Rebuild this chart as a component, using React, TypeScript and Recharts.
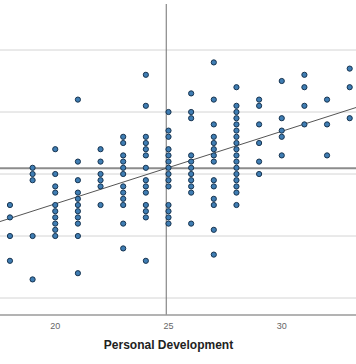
import React from "react";
import {
  ScatterChart,
  Scatter,
  XAxis,
  YAxis,
  ReferenceLine,
} from "recharts";

// Personal Development score columns (x) and the y values of their points
const col18 = [25, 23, 20, 16];
const col19 = [31, 30, 29, 20, 13];
const col20 = [34, 30, 28, 27, 25, 24, 23, 22, 21, 20];
const col21 = [42, 32, 29, 27, 26, 25, 24, 23, 22, 20, 14];
const col22 = [34, 32, 30, 29, 28, 25];
const col23 = [36, 35, 33, 32, 31, 30, 28, 27, 26, 25, 22, 18];
const col24 = [46, 41, 36, 35, 34, 33, 31, 29, 28, 27, 25, 24, 23, 16];
const col25 = [40, 37, 36, 34, 33, 32, 31, 30, 29, 28, 25, 24, 23, 22];
const col26 = [43, 40, 39, 33, 32, 31, 30, 29, 28, 27, 22];
const col27 = [48, 42, 38, 36, 35, 34, 33, 32, 29, 28, 26, 25, 21, 17];
const col28 = [44, 41, 40, 39, 38, 37, 36, 35, 34, 33, 32, 31, 30, 29, 28, 27, 25];
const col29 = [42, 41, 38, 35, 32, 30];
const col30 = [45, 39, 37, 36, 33];
const col31 = [46, 44, 41, 38];
const col32 = [42, 38, 33];
const col33 = [47, 44, 39];

const columnX = [18, 19, 20, 21, 22, 23, 24, 25, 26, 27, 28, 29, 30, 31, 32, 33];
const columnY = [
  col18, col19, col20, col21, col22, col23, col24, col25,
  col26, col27, col28, col29, col30, col31, col32, col33,
];

const xTicks = [20, 25, 30];
const yTicks = [10, 20, 30, 40, 50];
const xDomain = [15, 35];
const yDomain = [7.26, 57.42];

// reference lines
const meanX = 24.9;
const meanY = 30.92;
const slope = 1.17;

const points = columnX.flatMap((x, i) => columnY[i].map((y) => ({ x, y })));
const fitAt = (x: number) => meanY + slope * (x - meanX);

const Dot = (props: any) => {
  const { cx, cy } = props;
  if (cx == null || cy == null) return null;
  return (
    <circle cx={cx} cy={cy} r={2.6} fill="#3f7db3" stroke="#173450" strokeWidth={1} />
  );
};

const Tick = (props: any) => {
  const { x, y, payload } = props;
  return (
    <text
      x={x}
      y={y}
      dy={7.5}
      textAnchor="middle"
      fontSize={9}
      fill="#666"
      fontFamily="Liberation Sans, Arial, sans-serif"
    >
      {payload.value}
    </text>
  );
};

export default function App() {
  return (
    <div
      style={{
        position: "fixed",
        left: 0,
        top: 0,
        width: 356,
        height: 364,
        overflow: "hidden",
        background: "#fff",
      }}
    >
      <div style={{ position: "absolute", left: -58, top: 0 }}>
        <ScatterChart
          width={453}
          height={364}
          margin={{ top: 4, right: 0, bottom: 0, left: 0 }}
        >
          <XAxis
            type="number"
            dataKey="x"
            domain={xDomain}
            ticks={xTicks}
            allowDataOverflow
            height={49}
            tickLine={false}
            tickSize={0}
            tickMargin={6}
            axisLine={{ stroke: "#9a9a9a", strokeWidth: 1.5 }}
            tick={<Tick />}
            label={{
              value: "Personal Development",
              position: "insideBottom",
              offset: 15,
              fontSize: 12,
              fontWeight: "bold",
              fill: "#222",
              fontFamily: "Liberation Sans, Arial, sans-serif",
            }}
          />
          <YAxis
            type="number"
            dataKey="y"
            domain={yDomain}
            ticks={yTicks}
            allowDataOverflow
            width={0}
            tick={false}
            tickLine={false}
            axisLine={false}
          />
          {yTicks.map((v) => (
            <ReferenceLine key={`g${v}`} y={v} stroke="#d4d4d4" strokeWidth={1} />
          ))}
          <ReferenceLine y={meanY} stroke="#8c8c8c" strokeWidth={2} />
          <ReferenceLine x={meanX} stroke="#707070" strokeWidth={1} />
          <ReferenceLine
            segment={[
              { x: xDomain[0], y: fitAt(xDomain[0]) },
              { x: xDomain[1], y: fitAt(xDomain[1]) },
            ]}
            stroke="#555"
            strokeWidth={1}
          />
          <Scatter data={points} shape={<Dot />} isAnimationActive={false} />
        </ScatterChart>
      </div>
    </div>
  );
}
